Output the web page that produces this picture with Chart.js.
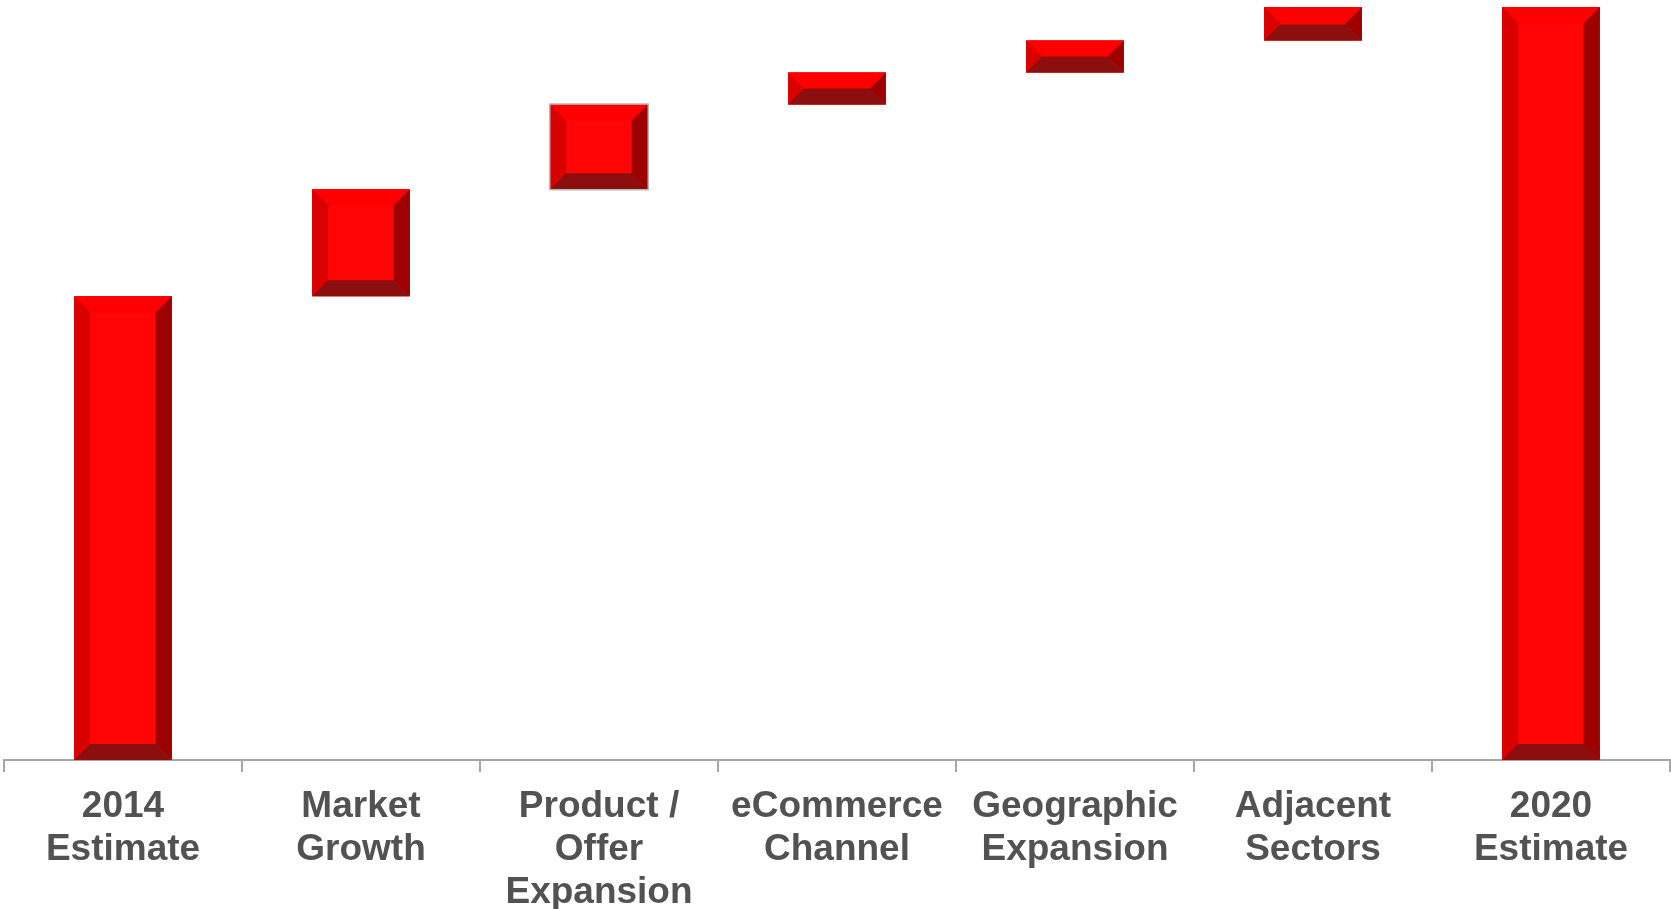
<!DOCTYPE html>
<html>
<head>
<meta charset="utf-8">
<script src="https://cdn.jsdelivr.net/npm/chart.js@4/dist/chart.umd.min.js"></script>
<style>
  html, body { margin: 0; padding: 0; background: #ffffff; }
  #wrap { width: 1671px; height: 909px; position: relative; }
</style>
</head>
<body>
<div id="wrap"><canvas id="c" width="1671" height="909"></canvas></div>
<script>
// ---- data ----
const categories = [
  ["2014", "Estimate"],
  ["Market", "Growth"],
  ["Product /", "Offer", "Expansion"],
  ["eCommerce", "Channel"],
  ["Geographic", "Expansion"],
  ["Adjacent", "Sectors"],
  ["2020", "Estimate"]
];
// start value, increments, and end total (arbitrary index units, 2020 = 100)
const startValue = 61.6;
const increments = [14.2, 11.25, 4.25, 4.25, 4.45];
const endValue = 100;
const yMax = 100;

// build floating bar ranges from the arrays
const ranges = [];
ranges.push([0, startValue]);
let run = startValue;
for (const inc of increments) {
  ranges.push([run, run + inc]);
  run += inc;
}
ranges.push([0, endValue]);

// bevel drawing plugin
const bevelPlugin = {
  id: 'bevel',
  afterDatasetsDraw(chart) {
    const ctx = chart.ctx;
    const meta = chart.getDatasetMeta(0);
    meta.data.forEach((bar, i) => {
      const p = bar.getProps(['x', 'y', 'base', 'width'], true);
      const l = p.x - p.width / 2, r = p.x + p.width / 2;
      const t = Math.min(p.y, p.base), b = Math.max(p.y, p.base);
      const h = b - t;
      const bv = Math.min(16, h / 2, p.width / 2);
      const il = l + bv, ir = r - bv, it = t + bv, ib = b - bv;
      ctx.save();
      // face
      ctx.fillStyle = '#ff0505';
      ctx.fillRect(l, t, r - l, h);
      const poly = (pts, col) => {
        ctx.beginPath();
        ctx.moveTo(pts[0][0], pts[0][1]);
        for (let k = 1; k < pts.length; k++) ctx.lineTo(pts[k][0], pts[k][1]);
        ctx.closePath();
        ctx.fillStyle = col;
        ctx.fill();
      };
      // top bevel
      poly([[l, t], [r, t], [ir, it], [il, it]], '#ff0000');
      // left bevel
      poly([[l, t], [il, it], [il, ib], [l, b]], '#d90000');
      // right bevel
      poly([[r, t], [r, b], [ir, ib], [ir, it]], '#9e0000');
      // bottom bevel
      poly([[l, b], [il, ib], [ir, ib], [r, b]], '#8d0e0e');
      if (i === 2) {
        ctx.strokeStyle = '#b8b8b8';
        ctx.lineWidth = 1.5;
        ctx.strokeRect(l - 0.5, t - 0.5, r - l + 1, h + 1);
      }
      ctx.restore();
    });
  }
};

new Chart(document.getElementById('c'), {
  type: 'bar',
  data: {
    labels: categories,
    datasets: [{
      data: ranges,
      backgroundColor: '#ff0505',
      borderWidth: 0,
      barPercentage: 0.82,
      categoryPercentage: 0.5
    }]
  },
  options: {
    responsive: false,
    animation: false,
    events: [],
    layout: { padding: { top: 7, left: 4, right: 1, bottom: 0 } },
    plugins: { legend: { display: false }, tooltip: { enabled: false } },
    scales: {
      x: {
        offset: true,
        grid: {
          offset: true,
          drawOnChartArea: false,
          drawTicks: true,
          tickLength: 12,
          color: '#a6a6a6',
          lineWidth: 2
        },
        border: { display: true, color: '#a6a6a6', width: 2 },
        ticks: {
          color: '#525252',
          font: { family: '"Liberation Sans", Arial, sans-serif', size: 37, weight: 'bold', lineHeight: 1.15 },
          padding: 14,
          maxRotation: 0,
          autoSkip: false
        },
        afterFit(scale) { scale.height = 149; }
      },
      y: {
        display: false,
        min: 0,
        max: yMax
      }
    }
  },
  plugins: [bevelPlugin]
});
</script>
</body>
</html>
